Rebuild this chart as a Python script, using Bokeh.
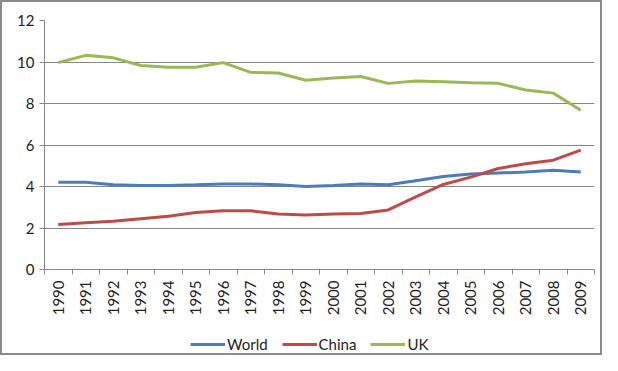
from bokeh.plotting import figure
from bokeh.layouts import column
from bokeh.models import FixedTicker, Legend, LegendItem
from bokeh.embed import file_html
from bokeh.resources import INLINE

years = [str(y) for y in range(1990, 2010)]
world = [4.20, 4.20, 4.08, 4.05, 4.05, 4.08, 4.12, 4.12, 4.08, 4.00,
         4.05, 4.12, 4.08, 4.28, 4.48, 4.60, 4.65, 4.70, 4.78, 4.70]
china = [2.17, 2.25, 2.33, 2.45, 2.57, 2.75, 2.83, 2.83, 2.67, 2.63,
         2.67, 2.70, 2.87, 3.50, 4.10, 4.45, 4.87, 5.10, 5.27, 5.75]
uk = [9.97, 10.32, 10.20, 9.83, 9.75, 9.75, 9.97, 9.50, 9.47, 9.12,
      9.23, 9.30, 8.97, 9.08, 9.05, 9.00, 8.97, 8.65, 8.50, 7.67]
y_ticks = [0, 2, 4, 6, 8, 10, 12]
series_names = ["World", "China", "UK"]

FONT = "Lato"
xs = list(range(len(years)))
colors = {"World": "#4A7EBB", "China": "#BE4B48", "UK": "#98B954"}

p = figure(width=598, height=316, output_backend="svg", toolbar_location=None,
           x_range=(-0.5, len(years) - 0.5), y_range=(0, 12),
           min_border_left=42, min_border_right=6, min_border_top=18,
           min_border_bottom=46)
p.outline_line_color = None
p.background_fill_color = "white"
p.border_fill_color = "white"

for name, vals in zip(series_names, [world, china, uk]):
    p.line(xs, vals, line_color=colors[name], line_width=3)

# axes
p.xaxis.ticker = FixedTicker(ticks=xs, minor_ticks=[i - 0.5 for i in range(len(years) + 1)])
p.xaxis.major_label_overrides = {i: y for i, y in enumerate(years)}
p.xaxis.major_label_orientation = 1.5708
p.xaxis.major_tick_line_color = None
p.xaxis.minor_tick_line_color = "#868686"
p.xaxis.minor_tick_out = 5
p.xaxis.minor_tick_in = 0
p.xaxis.axis_line_color = "#868686"
p.yaxis.ticker = FixedTicker(ticks=y_ticks)
p.yaxis.minor_tick_line_color = None
p.yaxis.major_tick_out = 5
p.yaxis.major_tick_in = 0
p.yaxis.major_tick_line_color = "#868686"
p.yaxis.axis_line_color = "#868686"
for ax in (p.xaxis, p.yaxis):
    ax.major_label_text_font = FONT
    ax.major_label_text_font_size = "15px"
    ax.major_label_text_color = "#222222"
    ax.major_label_standoff = 5

p.xgrid.grid_line_color = None
p.ygrid.grid_line_color = "#868686"
p.ygrid.grid_line_width = 1

# legend in its own strip below the chart
lf = figure(width=598, height=35, output_backend="svg", toolbar_location=None,
            x_range=(0, 1), y_range=(0, 1), min_border=0)
lf.axis.visible = False
lf.grid.visible = False
lf.outline_line_color = None
lf.border_fill_color = "white"
items = []
for name in series_names:
    r = lf.line([5, 6], [5, 6], line_color=colors[name], line_width=3)
    items.append(LegendItem(label=name, renderers=[r]))
legend = Legend(items=items, orientation="horizontal", location=(146, 0),
                label_text_font=FONT, label_text_font_size="15px",
                label_text_color="#222222",
                glyph_width=35, glyph_height=14, label_standoff=2, spacing=14,
                border_line_color=None, background_fill_alpha=0,
                padding=0, margin=0)
lf.add_layout(legend, "center")

layout = column(p, lf, spacing=0,
                styles={"border": "2px solid #8a8a8a", "background": "white"})

open("out.html", "w").write(file_html(layout, INLINE))
